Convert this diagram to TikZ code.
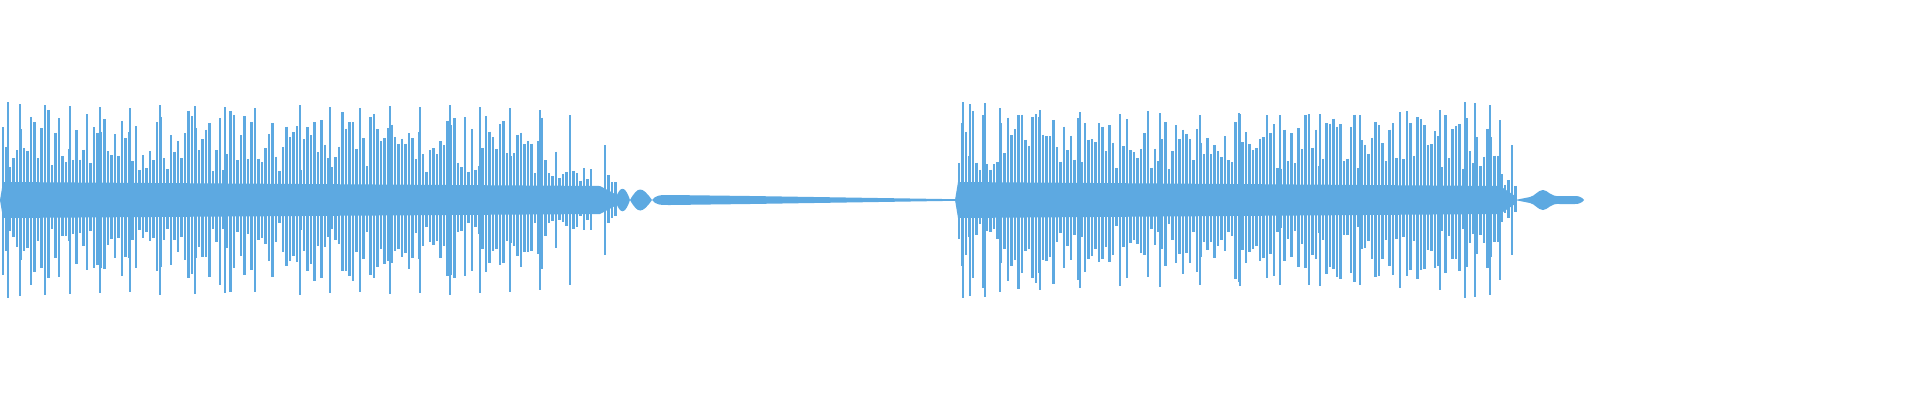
\documentclass[tikz,border=0pt]{standalone}
\definecolor{wave}{RGB}{93,169,225}
\begin{document}
\begin{tikzpicture}[x=1pt,y=-1pt,spike/.style={draw=wave,line width=2.2pt}]
\useasboundingbox (0,0) rectangle (1920,400);
\pgfmathsetseed{11}
% segment 1 core band
\fill[wave] (0,200) -- (3,182) -- (600,186) -- (615,194) -- (615,206) -- (600,214) -- (3,218) -- cycle;
\foreach \i in {0,...,175}{
  \pgfmathsetmacro\x{3+3.5*\i}
  \pgfmathsetmacro\env{\x<540 ? 1 : max(0.3,1-(\x-540)/100)}
  \pgfmathsetmacro\h{\env*(30+65*rnd)*(1-0.12*\x/600)}
  \pgfmathsetmacro\g{\h*(0.8+0.25*rnd)}
  \draw[spike] (\x,200-\h) -- (\x,200+\g);
}
\foreach \x/\h in {8/98,20/96,45/95,70/94,100/93,130/92,160/95,195/94,225/93,255/92,300/95,330/93,360/92,390/94,420/93,450/95,480/93,510/92,540/90,570/85,605/55}{
  \draw[spike] (\x,200-\h) -- (\x,200+\h);
}
% taper blobs
\fill[wave] (615,200) .. controls (620,185) and (625,185) .. (630,200) .. controls (625,215) and (620,215) .. (615,200);
\fill[wave] (630,200) .. controls (638,186) and (642,186) .. (652,200) .. controls (642,214) and (638,214) .. (630,200);
% flat line
\fill[wave] (652,200) .. controls (656,195) and (660,195) .. (670,195) -- (750,196) -- (955,199.2) -- (955,200.8) -- (750,204) -- (670,205) .. controls (660,205) and (656,205) .. (652,200);
% segment 2
\fill[wave] (955,200) -- (958,182) -- (1500,186) -- (1515,196) -- (1515,204) -- (1500,214) -- (958,218) -- cycle;
\foreach \i in {0,...,159}{
  \pgfmathsetmacro\x{959+3.5*\i}
  \pgfmathsetmacro\env{\x<1480 ? 1 : max(0.3,1-(\x-1480)/50)}
  \pgfmathsetmacro\h{\env*(30+60*rnd)}
  \pgfmathsetmacro\g{\h*(0.8+0.25*rnd)}
  \draw[spike] (\x,200-\h) -- (\x,200+\g);
}
\foreach \x/\h in {963/98,970/96,985/97,1000/92,1040/90,1080/88,1120/86,1160/87,1200/85,1240/86,1280/85,1320/86,1360/85,1400/88,1440/90,1465/98,1475/97,1490/95,1500/80,1512/55}{
  \draw[spike] (\x,200-\h) -- (\x,200+\h);
}
% tail blip
\fill[wave] (1515,200) -- (1530,197) .. controls (1535,196) and (1538,190) .. (1543,190) .. controls (1548,190) and (1550,197) .. (1560,196) -- (1575,196) .. controls (1582,196) and (1584,200) .. (1584,200) .. controls (1584,200) and (1582,204) .. (1575,204) -- (1560,204) .. controls (1550,203) and (1548,210) .. (1543,210) .. controls (1538,210) and (1535,204) .. (1530,203) -- cycle;
\end{tikzpicture}
\end{document}
